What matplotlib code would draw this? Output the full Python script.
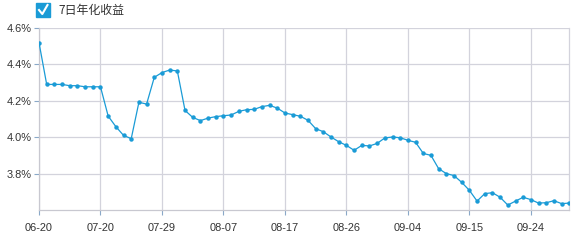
import matplotlib
matplotlib.use("Agg")
import matplotlib.pyplot as plt
from matplotlib.patches import Rectangle
from matplotlib.lines import Line2D

plt.rcParams['font.family'] = ['Liberation Sans', 'Noto Sans CJK SC', 'DejaVu Sans']

series_name = "7日年化收益"
values = [
    4.52, 4.29, 4.29, 4.29, 4.283, 4.283, 4.277, 4.277, 4.277, 4.116,
    4.058, 4.010, 3.992, 4.192, 4.182, 4.329, 4.355, 4.369, 4.364, 4.147,
    4.109, 4.091, 4.105, 4.113, 4.118, 4.122, 4.142, 4.151, 4.153, 4.168,
    4.175, 4.160, 4.133, 4.124, 4.115, 4.093, 4.047, 4.030, 4.001, 3.975,
    3.955, 3.928, 3.955, 3.952, 3.966, 3.996, 4.001, 3.997, 3.983, 3.972,
    3.911, 3.900, 3.827, 3.800, 3.789, 3.752, 3.708, 3.649, 3.690, 3.695,
    3.670, 3.627, 3.649, 3.670, 3.657, 3.638, 3.640, 3.651, 3.635, 3.638,
]
tick_labels = ["06-20", "07-20", "07-29", "08-07", "08-17", "08-26", "09-04", "09-15", "09-24"]
tick_step = 8
y_ticks = [3.8, 4.0, 4.2, 4.4, 4.6]
y_min, y_max = 3.6, 4.6

W, H = 582, 242
fig = plt.figure(figsize=(W / 100, H / 100), dpi=100)
ax = fig.add_axes([39 / W, 1 - 210 / H, 530.3 / W, 182 / H])

line_color = "#1a9bd6"
grid_color = "#d3d3dc"
axis_color = "#c8c8d0"
tick_color = "#8aa8c8"
text_color = "#333333"

x = list(range(len(values)))
ax.plot(x, values, color=line_color, lw=0.9, marker='o', markersize=3.2,
        markeredgewidth=0, zorder=3)

ax.set_xlim(0, len(values) - 1)
ax.set_ylim(y_min, y_max)

xt = [i * tick_step for i in range(len(tick_labels))]
ax.set_xticks(xt)
ax.set_xticklabels(tick_labels)
ax.set_yticks(y_ticks)
ax.set_yticklabels([f"{v:.1f}%" for v in y_ticks])

ax.grid(True, color=grid_color, lw=0.9)
ax.set_axisbelow(True)

for s in ['top']:
    ax.spines[s].set_visible(False)
ax.spines['right'].set_color(grid_color)
ax.spines['right'].set_linewidth(0.9)
ax.spines['left'].set_color(axis_color)
ax.spines['bottom'].set_color(axis_color)
ax.spines['left'].set_linewidth(0.9)
ax.spines['bottom'].set_linewidth(0.9)

ax.tick_params(axis='both', colors=tick_color, labelcolor=text_color,
               labelsize=7.9, length=3.6, width=0.8)
ax.tick_params(axis='x', pad=6)
ax.tick_params(axis='y', pad=2)

# legend checkbox
fig.patches.append(Rectangle((36 / W, 1 - 17 / H), 14 / W, 14 / H,
                             transform=fig.transFigure, color=line_color))
fig.lines.append(Line2D([39 / W, 42.3 / W, 47.5 / W],
                        [1 - 10 / H, 1 - 14 / H, 1 - 5 / H],
                        transform=fig.transFigure, color='white', lw=1.5))
fig.text(58 / W, 1 - 10.5 / H, series_name, fontsize=8.6, color=text_color,
         va='center', ha='left', family=['Noto Sans CJK SC', 'DejaVu Sans'])

fig.savefig("out.png", dpi=100)
